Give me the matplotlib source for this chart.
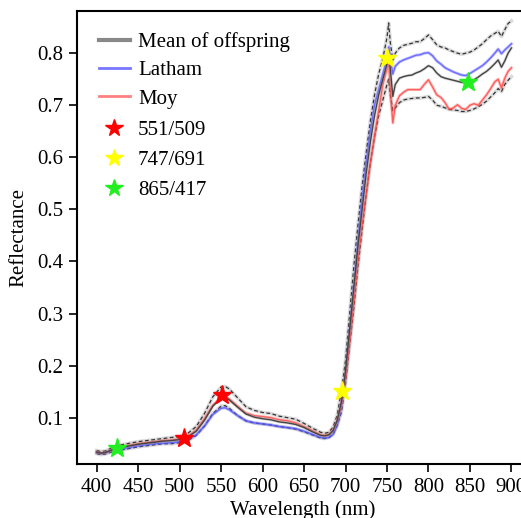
"""
    Reflectance spectra: mean of offspring (+/- SD) vs. parents Latham and Moy
"""
import numpy as np
import matplotlib
matplotlib.use('Agg')
import matplotlib.pyplot as plt
from matplotlib.lines import Line2D

plt.rcParams['font.family'] = ['Liberation Serif', 'DejaVu Serif']
plt.rcParams['mathtext.fontset'] = 'stix'

wavelength = [400, 405, 410, 420, 430, 440, 450, 460, 470, 480, 490, 500, 510, 520,
              530, 540, 550, 555, 560, 570, 580, 590, 600, 610, 620, 630, 640, 650,
              660, 670, 675, 680, 685, 690, 695, 700, 705, 710, 715, 720, 725, 730,
              735, 740, 745, 750, 752, 754, 757, 760, 765, 770, 775, 780, 785, 790,
              795, 800, 805, 810, 815, 820, 825, 830, 835, 840, 845, 850, 855, 860,
              865, 870, 875, 880, 884, 888, 892, 896, 900]

mean_offspring = [.034, .032, .033, .039, .043, .046, .049, .051, .053, .055, .056, .058,
                  .063, .074, .095, .122, .138, .139, .134, .120, .107, .101, .098, .096,
                  .092, .090, .087, .081, .073, .066, .065, .067, .075, .095, .130, .190,
                  .270, .350, .430, .500, .570, .630, .680, .720, .750, .780, .800, .770,
                  .717, .740, .752, .755, .757, .758, .762, .765, .770, .776, .772, .762,
                  .755, .752, .750, .748, .746, .744, .743, .745, .749, .754, .760, .765,
                  .772, .780, .787, .773, .785, .800, .810]

upper_sd = [.037, .035, .036, .043, .048, .051, .054, .056, .058, .060, .062, .064,
            .070, .083, .108, .140, .159, .160, .155, .138, .121, .114, .110, .108,
            .103, .100, .097, .089, .080, .072, .070, .072, .082, .105, .150, .210,
            .300, .390, .470, .545, .610, .670, .720, .760, .790, .830, .858, .820,
            .787, .800, .810, .815, .817, .819, .822, .822, .828, .835, .826, .816,
            .812, .810, .806, .803, .800, .798, .800, .802, .806, .812, .818, .826,
            .833, .838, .842, .832, .845, .857, .862]

lower_sd = [.031, .029, .030, .035, .038, .041, .044, .046, .048, .050, .050, .052,
            .056, .066, .084, .108, .122, .123, .118, .104, .094, .090, .088, .086,
            .083, .081, .078, .073, .067, .061, .060, .062, .068, .085, .110, .165,
            .240, .310, .390, .460, .530, .590, .640, .680, .710, .740, .750, .720,
            .690, .695, .705, .710, .712, .713, .714, .714, .715, .717, .710, .700,
            .698, .695, .692, .691, .690, .688, .688, .690, .693, .697, .702, .708,
            .716, .724, .732, .726, .740, .748, .755]

latham = [.033, .031, .032, .037, .040, .043, .046, .048, .050, .051, .052, .054,
          .058, .067, .084, .106, .118, .119, .115, .104, .094, .090, .088, .086,
          .083, .081, .079, .074, .068, .062, .061, .062, .068, .086, .120, .180,
          .260, .350, .440, .520, .590, .650, .700, .730, .760, .790, .812, .790,
          .760, .775, .783, .787, .790, .793, .796, .797, .800, .801, .795, .785,
          .779, .772, .768, .764, .761, .758, .757, .761, .766, .771, .776, .783,
          .791, .800, .808, .799, .806, .812, .818]

moy = [.034, .032, .033, .039, .044, .047, .050, .052, .054, .056, .057, .059,
       .064, .076, .098, .124, .139, .140, .136, .122, .109, .104, .102, .100,
       .096, .094, .090, .083, .075, .067, .066, .068, .076, .094, .125, .175,
       .245, .320, .400, .470, .530, .590, .640, .690, .740, .770, .785, .730,
       .666, .700, .718, .725, .730, .730, .730, .730, .740, .749, .735, .720,
       .715, .705, .692, .695, .701, .694, .692, .700, .703, .700, .710, .720,
       .732, .745, .750, .733, .752, .765, .772]

# selected band pairs, as they are marked on the curves
star_labels = ['551/509', '747/691', '865/417']
star_colors = ['#ff0000', '#ffff00', '#22ee22']
star_wl = [[505.5, 550.6], [696, 750.6], [424, 847.8]]
star_val = [[.061, .143], [.152, .790], [.042, .745]]

W, H = 521, 518
fig = plt.figure(figsize=(W / 100, H / 100), dpi=100)
ax = fig.add_axes([77 / W, (H - 464.3) / H, (528 - 77) / W, 453.3 / H])

for sd in (upper_sd, lower_sd):
    ax.plot(wavelength, sd, color='#999999', lw=2.6, alpha=0.35)
    ax.plot(wavelength, sd, color='#333333', lw=0.9, ls=(0, (3, 2)))

ax.plot(wavelength, latham, color='#5a5aff', lw=2.2, alpha=0.35)
ax.plot(wavelength, latham, color='#5555ff', lw=1.0, alpha=0.8)
ax.plot(wavelength, moy, color='#ff5a5a', lw=2.2, alpha=0.35)
ax.plot(wavelength, moy, color='#ff4444', lw=1.0, alpha=0.8)
ax.plot(wavelength, mean_offspring, color='#999999', lw=2.2, alpha=0.35)
ax.plot(wavelength, mean_offspring, color='#444444', lw=1.0)

for c, xs, ys in zip(star_colors, star_wl, star_val):
    ax.plot(xs, ys, ls='none', marker='*', ms=14, color=c, mec=c)

ax.set_xlim(376.3, 920)
ax.set_ylim(0.0105, 0.881)
ax.set_xticks(np.arange(400, 901, 50))
ax.set_yticks(np.arange(0.1, 0.81, 0.1))
ax.set_yticklabels([f'{v:.1f}' for v in np.arange(0.1, 0.81, 0.1)])
ax.tick_params(direction='out', length=6, width=1.2, labelsize=15, pad=4)
for sp in ax.spines.values():
    sp.set_linewidth(1.5)
ax.set_xlabel('Wavelength (nm)', fontsize=15, labelpad=2)
ax.set_ylabel('Reflectance', fontsize=15, labelpad=6)

line_handles = [Line2D([], [], color='#888888', lw=3),
                Line2D([], [], color='#7777ff', lw=2),
                Line2D([], [], color='#ff8080', lw=2)]
leg1 = ax.legend(line_handles, ['Mean of offspring', 'Latham', 'Moy'],
                 loc='upper left', frameon=False, fontsize=15,
                 handlelength=1.5, handletextpad=0.4, labelspacing=0.42,
                 bbox_to_anchor=(0.02, 0.981), borderaxespad=0.2)
ax.add_artist(leg1)
star_handles = [Line2D([], [], ls='none', marker='*', ms=13, color=c) for c in star_colors]
ax.legend(star_handles, star_labels, loc='upper left', frameon=False, fontsize=15,
          handlelength=1.5, handletextpad=0.4, labelspacing=0.5,
          bbox_to_anchor=(0.02, 0.7865), borderaxespad=0.2)

fig.savefig('out.png', dpi=100)
